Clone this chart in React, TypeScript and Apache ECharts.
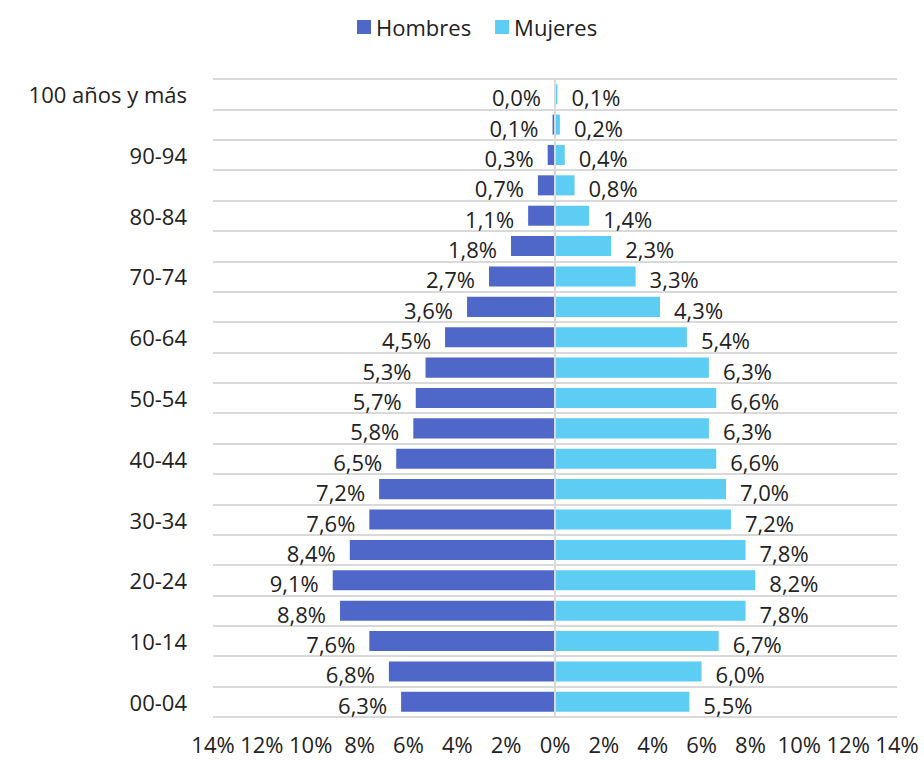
import React, { useEffect, useRef } from "react";
import * as echarts from "echarts";

const categories = [
  "00-04", "05-09", "10-14", "15-19", "20-24", "25-29", "30-34", "35-39", "40-44", "45-49",
  "50-54", "55-59", "60-64", "65-69", "70-74", "75-79", "80-84", "85-89", "90-94", "95-99",
  "100 años y más",
];
const hombres = [6.3, 6.8, 7.6, 8.8, 9.1, 8.4, 7.6, 7.2, 6.5, 5.8, 5.7, 5.3, 4.5, 3.6, 2.7, 1.8, 1.1, 0.7, 0.3, 0.1, 0.0];
const mujeres = [5.5, 6.0, 6.7, 7.8, 8.2, 7.8, 7.2, 7.0, 6.6, 6.3, 6.6, 6.3, 5.4, 4.3, 3.3, 2.3, 1.4, 0.8, 0.4, 0.2, 0.1];

const FONT = "Open Sans";
const FS = 22;
const fmt = (v: number) => Math.abs(v).toFixed(1).replace(".", ",") + "%";

export default function App() {
  const ref = useRef<HTMLDivElement>(null);
  useEffect(() => {
    if (!ref.current) return;
    const chart = echarts.init(ref.current, undefined, { renderer: "svg" });
    chart.setOption({
      animation: false,
      textStyle: { fontFamily: FONT },
      legend: {
        top: 11,
        left: 352,
        itemWidth: 14,
        itemHeight: 14,
        itemGap: 24,
        icon: "rect",
        textStyle: { fontSize: FS, color: "#222", fontFamily: FONT },
        data: ["Hombres", "Mujeres"],
      },
      grid: { left: 213, right: 27, top: 79, bottom: 45 },
      xAxis: {
        type: "value",
        min: -14,
        max: 14,
        interval: 2,
        axisLine: { show: false },
        axisTick: { show: false },
        splitLine: { show: false },
        axisLabel: {
          margin: 16,
          fontSize: FS,
          lineHeight: 22,
          color: "#222",
          fontFamily: FONT,
          formatter: (v: number) => Math.abs(v) + "%",
        },
      },
      yAxis: {
        type: "category",
        data: categories,
        axisLine: { show: false },
        axisTick: { show: false, interval: 0 },
        splitLine: { show: true, interval: 0, lineStyle: { color: "#D9D9D9", width: 2 } },
        axisLabel: { interval: 1, margin: 26, fontSize: FS, color: "#222", fontFamily: FONT },
      },
      series: [
        {
          name: "Hombres",
          type: "bar",
          stack: "a",
          barCategoryGap: "34%",
          data: hombres.map((v) => -v),
          itemStyle: { color: "#4F67C9" },
          label: {
            show: true,
            position: "left",
            distance: 14,
            offset: [0, 3],
            fontSize: FS,
            color: "#222",
            fontFamily: FONT,
            formatter: (p: any) => fmt(p.value),
          },
          markLine: {
            silent: true,
            symbol: "none",
            label: { show: false },
            lineStyle: { color: "#D9D9D9", width: 2, type: "solid" },
            data: [{ xAxis: 0 }],
          },
        },
        {
          name: "Mujeres",
          type: "bar",
          stack: "a",
          barCategoryGap: "34%",
          data: mujeres,
          itemStyle: { color: "#5DCDF3" },
          label: {
            show: true,
            position: "right",
            distance: 14,
            offset: [0, 3],
            fontSize: FS,
            color: "#222",
            fontFamily: FONT,
            formatter: (p: any) => fmt(p.value),
          },
        },
      ],
    });
    return () => chart.dispose();
  }, []);
  return <div ref={ref} style={{ width: 924, height: 762, position: "absolute", left: 0, top: 0 }} />;
}
